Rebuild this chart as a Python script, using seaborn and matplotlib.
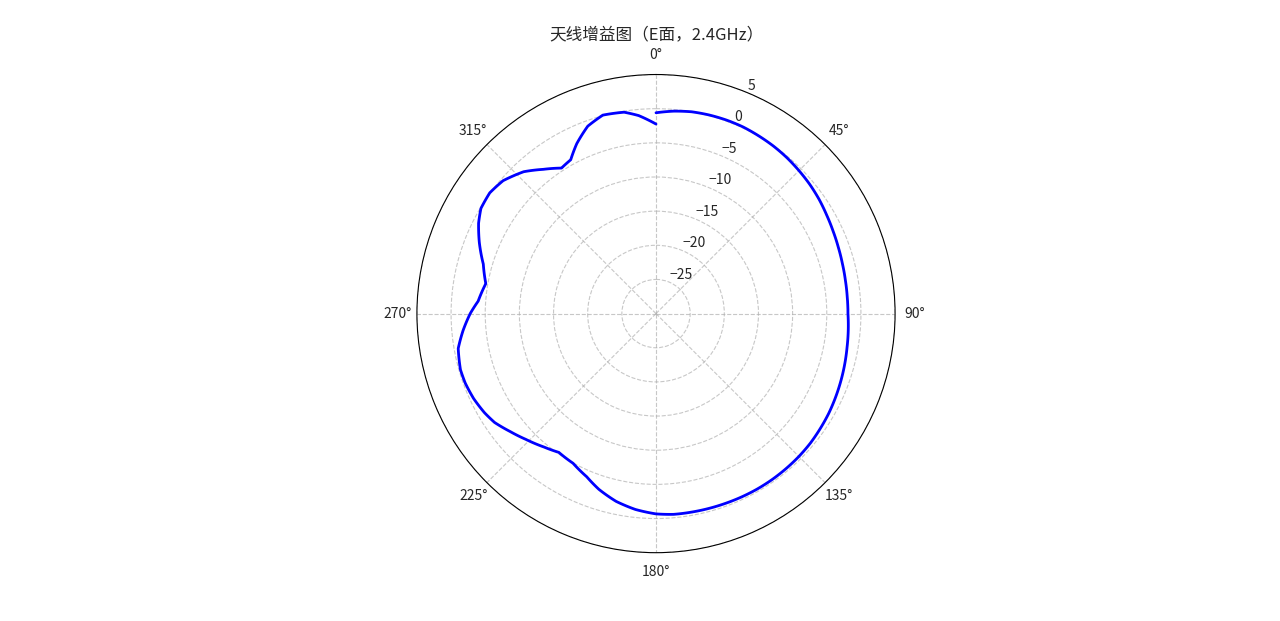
import numpy as np
import pandas as pd
import matplotlib
matplotlib.use("Agg")
import matplotlib.pyplot as plt
import seaborn as sns

# Angle (degrees) and gain (dB)
angles_deg = [0, 5, 10, 15, 20, 25, 30, 35, 40, 45, 50, 55, 60, 65, 70, 75, 80, 85,
              90, 95, 100, 105, 110, 115, 120, 125, 130, 135, 140, 145, 150, 155, 160, 165,
              170, 175, 180, 186, 192, 198, 203, 209, 215, 220, 226, 231, 236, 240, 245,
              250, 254, 260, 265, 270, 274, 280, 286, 292, 297, 301, 306, 311, 317, 322,
              327, 331, 335, 340, 345, 351, 355, 360]
gain_db = [-0.6, -0.25, 0.0, 0.1, 0.15, 0.15, 0.05, -0.05, -0.2, -0.4, -0.6, -0.85, -1.15, -1.4,
           -1.6, -1.75, -1.85, -1.9, -1.9, -1.75, -1.6, -1.4, -1.2, -1.0, -0.8, -0.65, -0.5, -0.42,
           -0.38, -0.35, -0.35, -0.38, -0.42, -0.45, -0.48, -0.5, -0.68, -1.17, -1.9, -2.95, -4.05,
           -4.95, -5.2, -4.5, -3.5, -2.55, -1.5, -1.0, -0.55,
           -0.28, -0.22, -0.6, -1.65, -2.8, -3.9, -4.7, -3.7, -2.1, -0.85, -0.1, 0.08, -0.34,
           -1.6, -3.2, -4.6, -4.25, -2.55, -0.8, 0.08, -0.15, -0.9, -2.25]
r_ticks = [-25, -20, -15, -10, -5, 0, 5]
title_text = "天线增益图（E面，2.4GHz）"

sns.set_style("white")
plt.rcParams['font.family'] = ['Noto Sans CJK SC', 'DejaVu Sans']
plt.rcParams['axes.unicode_minus'] = True

df = pd.DataFrame({"theta": np.deg2rad(angles_deg), "gain": gain_db})

fig = plt.figure(figsize=(12.8, 6.21), dpi=100)
ax = fig.add_subplot(111, projection='polar')
ax.set_theta_zero_location('N')
ax.set_theta_direction(-1)

sns.lineplot(data=df, x="theta", y="gain", ax=ax, color="blue", linewidth=2,
             sort=False, estimator=None)
# let the polar projection draw each segment along the polar grid (arc-wise)
for ln in ax.lines:
    ln.get_path()._interpolation_steps = 20
    ln.set_solid_joinstyle('round')

ax.set_ylim(-30, 5)
ax.set_yticks(r_ticks)
ax.set_rlabel_position(22.5)
ax.set_xlabel("")
ax.set_ylabel("")
ax.grid(True, linestyle='--', color='#b0b0b0', alpha=0.7, linewidth=0.8)
ax.spines['polar'].set_color('black')
ax.spines['polar'].set_linewidth(0.8)
ax.tick_params(labelsize=10)
ax.set_title(title_text, fontsize=12)

fig.savefig("out.png", dpi=100)
